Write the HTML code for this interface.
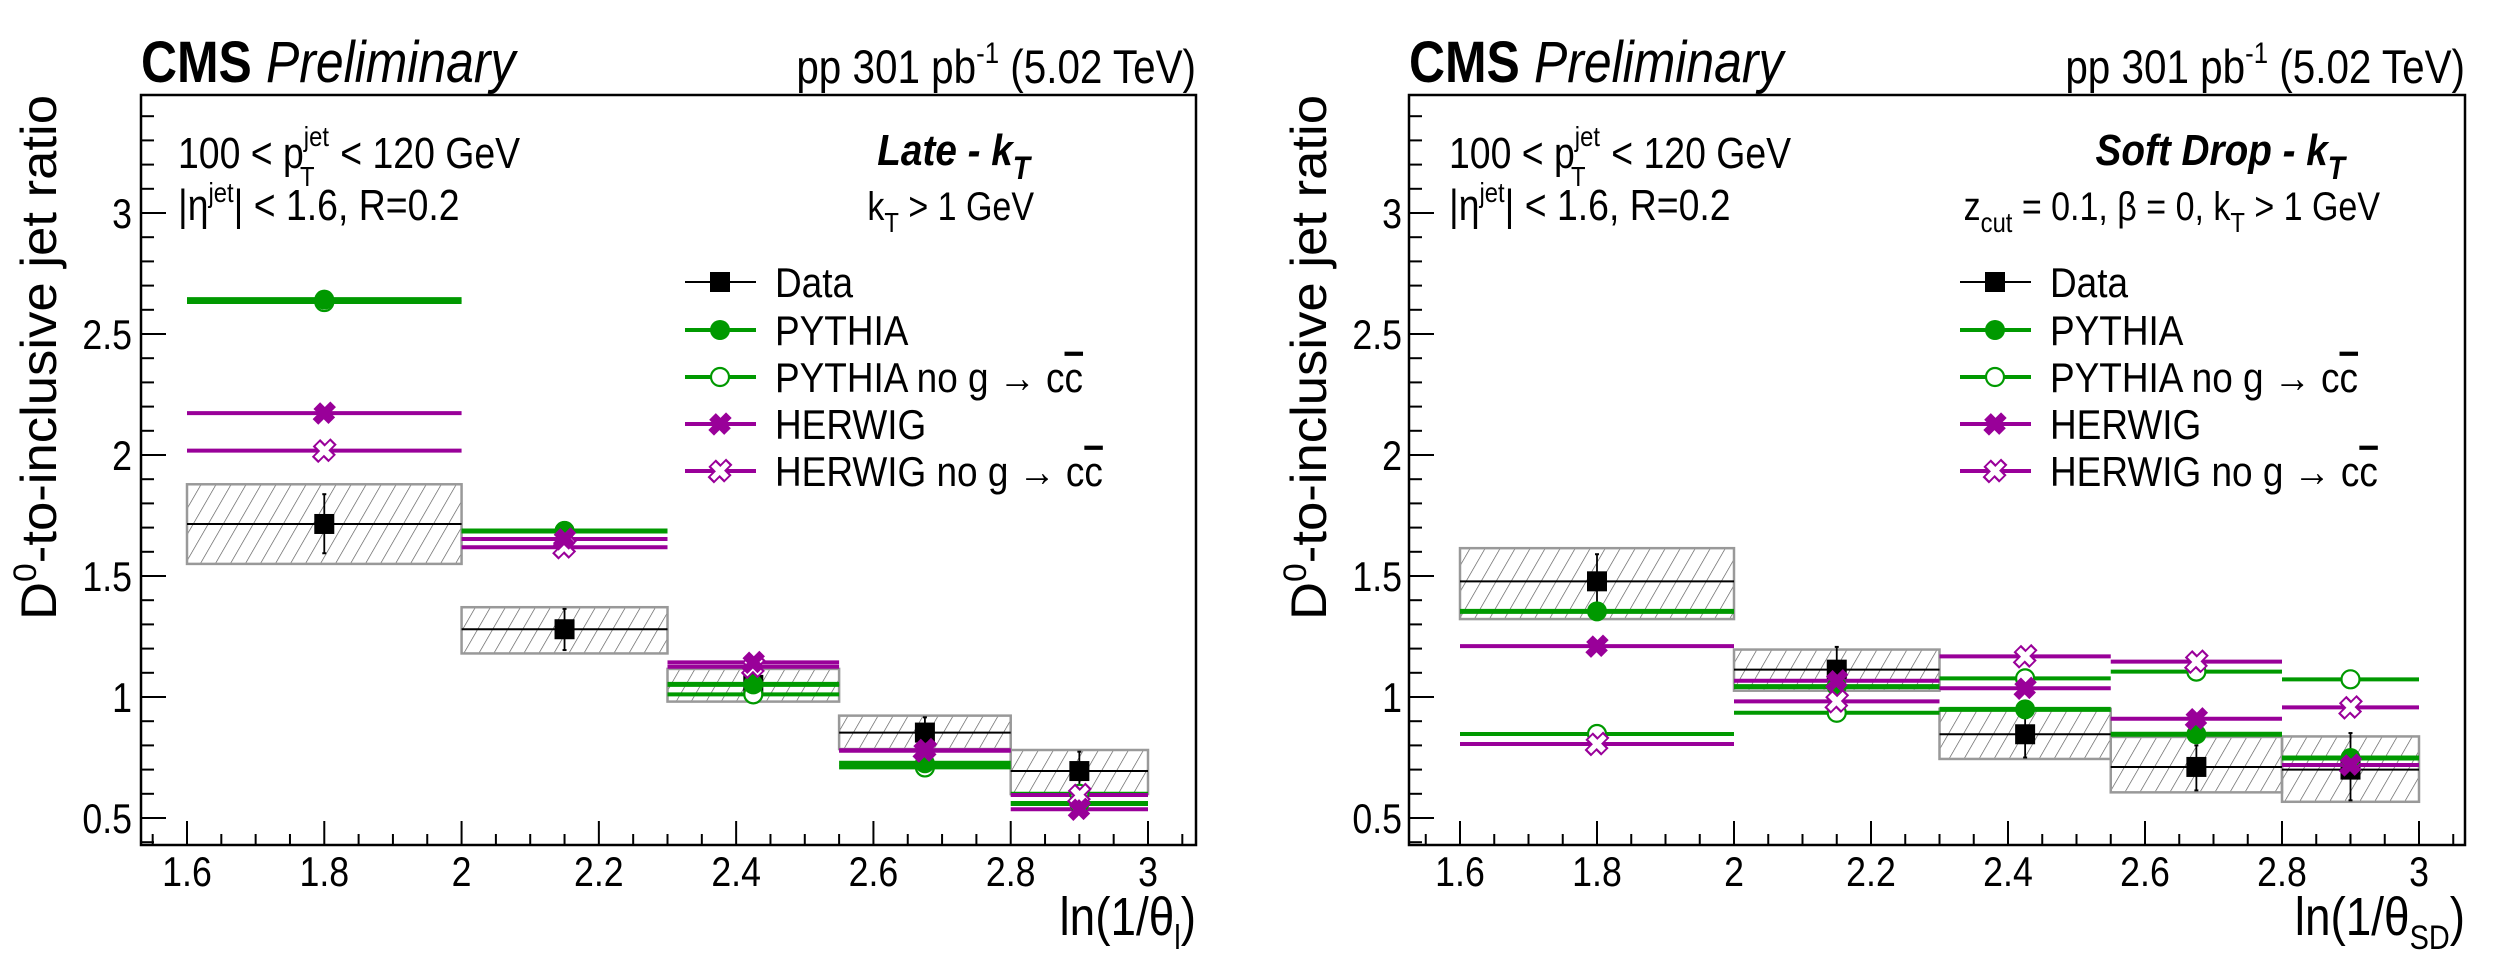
<!DOCTYPE html>
<html><head><meta charset="utf-8"><style>
html,body{margin:0;padding:0;background:#fff;}
svg{display:block;font-family:"Liberation Sans",sans-serif;}
</style></head><body>
<svg id="c" width="2496" height="958" viewBox="0 0 2496 958" xmlns="http://www.w3.org/2000/svg">
<defs>
<pattern id="hatch" patternUnits="userSpaceOnUse" width="13" height="13" patternTransform="rotate(30)">
<line x1="0" y1="0" x2="0" y2="13" stroke="#555" stroke-width="1.3"/>
</pattern>
</defs>
</svg>
<script>
// ---- data ----
const binEdges = [1.6, 2.0, 2.3, 2.55, 2.8, 3.0];
const binCenters = [1.8, 2.15, 2.425, 2.675, 2.9];
const xTicks = [1.6, 1.8, 2.0, 2.2, 2.4, 2.6, 2.8, 3.0];
const xTickLabels = ["1.6","1.8","2","2.2","2.4","2.6","2.8","3"];
const yTicks = [0.5, 1, 1.5, 2, 2.5, 3];
const yTickLabels = ["0.5","1","1.5","2","2.5","3"];

const lateData = [1.715, 1.28, 1.05, 0.853, 0.694];
const lateStatLo = [1.594, 1.194, 1.0, 0.79, 0.61];
const lateStatHi = [1.838, 1.364, 1.10, 0.916, 0.774];
const lateSysLo = [1.55, 1.18, 0.981, 0.785, 0.599];
const lateSysHi = [1.879, 1.371, 1.116, 0.923, 0.781];
const latePythia = [2.642, 1.686, 1.052, 0.726, 0.56];
const latePythiaNo = [2.632, 1.686, 1.011, 0.709, 0.60];
const lateHerwig = [2.173, 1.653, 1.143, 0.778, 0.536];
const lateHerwigNo = [2.018, 1.619, 1.125, 0.78, 0.595];

const sdData = [1.478, 1.113, 0.846, 0.711, 0.70];
const sdStatLo = [1.37, 1.02, 0.75, 0.614, 0.573];
const sdStatHi = [1.59, 1.207, 0.93, 0.80, 0.851];
const sdSysLo = [1.322, 1.026, 0.744, 0.606, 0.567];
const sdSysHi = [1.615, 1.196, 0.951, 0.835, 0.837];
const sdPythia = [1.354, 1.043, 0.949, 0.846, 0.748];
const sdPythiaNo = [0.847, 0.935, 1.077, 1.105, 1.073];
const sdHerwig = [1.21, 1.067, 1.036, 0.91, 0.719];
const sdHerwigNo = [0.806, 0.982, 1.168, 1.146, 0.957];

const NS = "http://www.w3.org/2000/svg";
const svg = document.getElementById("c");
const GREEN = "#009900", PURPLE = "#990099";

function el(tag, attrs, parent) {
  const e = document.createElementNS(NS, tag);
  for (const k in attrs) e.setAttribute(k, attrs[k]);
  (parent || svg).appendChild(e);
  return e;
}
function txt(parent, x, y, html, size, anchor, sx, weight, style) {
  const t = el("text", {transform: `translate(${x},${y}) scale(${sx},1)`, "font-size": size, "text-anchor": anchor || "start", fill: "#000"}, parent);
  if (weight) t.setAttribute("font-weight", weight);
  if (style) t.setAttribute("font-style", style);
  t.innerHTML = html;
  return t;
}
function marker(g, type, cx, cy, color) {
  let m;
  if (type === "square") {
    m = el("rect", {x: cx-10, y: cy-10, width: 20, height: 20, fill: "#000"}, g);
  } else if (type === "circle") {
    m = el("circle", {cx: cx, cy: cy, r: 10, fill: color}, g);
  } else if (type === "ocircle") {
    m = el("circle", {cx: cx, cy: cy, r: 9, fill: "#fff", stroke: color, "stroke-width": 2.2}, g);
  } else {
    const s = 12, t = 4.2;
    const pts = [[-t,-s],[t,-s],[t,-t],[s,-t],[s,t],[t,t],[t,s],[-t,s],[-t,t],[-s,t],[-s,-t],[-t,-t]].map(p => p.join(",")).join(" ");
    m = el("polygon", {points: pts, transform: `translate(${cx},${cy}) rotate(45) scale(0.85,1)`,
      fill: type === "cross" ? color : "#fff", stroke: color, "stroke-width": type === "cross" ? 1 : 2.2}, g);
  }
  return m;
}

function panel(cfg) {
  const g = el("g", {});
  
  
  const L = cfg.left, R = cfg.right, T = 95, B = 845;
  const x0 = cfg.x16, x1 = cfg.x30;
  const X = v => x0 + (v - 1.6) * (x1 - x0) / 1.4;
  const Y = v => 697 - (v - 1) * 242;

  const fr = el("rect", {x: L, y: T, width: R-L, height: B-T, fill: "none", stroke: "#000", "stroke-width": 2.5}, g);
  
  

  const yAxis = el("g", {}, g);
  
  
  for (let i = 4; i <= 34; i++) {
    const v = i / 10, yy = Y(v);
    if (yy < T || yy > B) continue;
    const major = i % 5 === 0;
    el("line", {x1: L, x2: L + (major ? 25 : 13), y1: yy, y2: yy, stroke: "#000", "stroke-width": 2}, yAxis);
  }
  yTicks.forEach((v, i) => {
    const t = txt(yAxis, cfg.ylab, Y(v) + 15, yTickLabels[i], 42, "end", 0.85);
    
    
  });
  const xAxis = el("g", {}, g);
  
  
  for (let i = 31; i <= 61; i++) {
    const v = i / 20, xx = X(v);
    if (xx < L || xx > R) continue;
    const major = i % 4 === 0;
    el("line", {x1: xx, x2: xx, y1: B, y2: B - (major ? 24 : 11), stroke: "#000", "stroke-width": 2}, xAxis);
  }
  xTicks.forEach((v, i) => {
    const t = txt(xAxis, X(v), 886, xTickLabels[i], 42, "middle", 0.85);
    
    
  });

  const dg = el("g", {}, g);
  
  
  cfg.data.forEach((v, i) => {
    const xa = X(binEdges[i]), xb = X(binEdges[i+1]);
    const box = el("rect", {x: xa, y: Y(cfg.sysHi[i]), width: xb - xa, height: Y(cfg.sysLo[i]) - Y(cfg.sysHi[i]),
      fill: "url(#hatch)", stroke: "#999", "stroke-width": 2.5}, dg);
    
    
  });
  cfg.data.forEach((v, i) => {
    const xa = X(binEdges[i]), xb = X(binEdges[i+1]), xc = X(binCenters[i]);
    el("line", {x1: xa, x2: xb, y1: Y(v), y2: Y(v), stroke: "#000", "stroke-width": 2}, dg);
    el("line", {x1: xc, x2: xc, y1: Y(cfg.statLo[i]), y2: Y(cfg.statHi[i]), stroke: "#000", "stroke-width": 1.8}, dg);
    el("line", {x1: xc-2, x2: xc+2, y1: Y(cfg.statLo[i]), y2: Y(cfg.statLo[i]), stroke: "#000", "stroke-width": 2}, dg);
    el("line", {x1: xc-2, x2: xc+2, y1: Y(cfg.statHi[i]), y2: Y(cfg.statHi[i]), stroke: "#000", "stroke-width": 2}, dg);
    const m = marker(dg, "square", xc, Y(v));
    
    
  });

  const models = [
    {vals: cfg.pythiaNo, color: GREEN, type: "ocircle", w: 4, name: "pythia-no-gcc-series"},
    {vals: cfg.pythia, color: GREEN, type: "circle", w: 5, name: "pythia-series"},
    {vals: cfg.herwigNo, color: PURPLE, type: "ocross", w: 4, name: "herwig-no-gcc-series"},
    {vals: cfg.herwig, color: PURPLE, type: "cross", w: 4, name: "herwig-series"},
  ];
  models.forEach(md => {
    const mg = el("g", {}, g);
    
    
    md.vals.forEach((v, i) => {
      el("line", {x1: X(binEdges[i]), x2: X(binEdges[i+1]), y1: Y(v), y2: Y(v), stroke: md.color, "stroke-width": md.w}, mg);
    });
  });
  models.forEach(md => {
    const mg = el("g", {}, g);
    
    
    md.vals.forEach((v, i) => {
      const m = marker(mg, md.type, X(binCenters[i]), Y(v), md.color);
      
      
    });
  });

  const lg = el("g", {}, g);
  
  
  const entries = [
    {label: "Data", color: "#000", type: "square", w: 2},
    {label: "PYTHIA", color: GREEN, type: "circle", w: 4},
    {label: "PYTHIA no g \u2192 c<tspan text-decoration=\"overline\">c</tspan>", color: GREEN, type: "ocircle", w: 4},
    {label: "HERWIG", color: PURPLE, type: "cross", w: 4},
    {label: "HERWIG no g \u2192 c<tspan text-decoration=\"overline\">c</tspan>", color: PURPLE, type: "ocross", w: 4},
  ];
  const rows = [282, 330, 377, 424, 471];
  entries.forEach((e, i) => {
    const eg = el("g", {}, lg);
    
    
    const yy = rows[i];
    el("line", {x1: cfg.legX - 35, x2: cfg.legX + 36, y1: yy, y2: yy, stroke: e.color, "stroke-width": e.w}, eg);
    marker(eg, e.type, cfg.legX, yy, e.color);
    txt(eg, cfg.legX + 55, yy + 15, e.label, 42, "start", 0.88);
  });

  const cms = txt(g, L, 82, "CMS", 58, "start", 0.86, "bold");
  
  
  const pre = txt(g, L + 125, 82, "Preliminary", 58, "start", 0.86, null, "italic");
  
  
  const lumi = txt(g, R, 83, 'pp 301 pb<tspan dy="-20" font-size="30">-1</tspan><tspan dy="20"> (5.02 TeV)</tspan>', 47, "end", 0.86);
  
  

  const a1 = txt(g, cfg.annX, 168, '100 &lt; p<tspan dy="-22" font-size="28">jet</tspan><tspan dx="-34" dy="40" font-size="28">T</tspan><tspan dy="-18" dx="18"> &lt; 120 GeV</tspan>', 44, "start", 0.85);
  
  
  const a2 = txt(g, cfg.annX, 220, '|\u03b7<tspan dy="-18" font-size="28">jet</tspan><tspan dy="18">| &lt; 1.6, R=0.2</tspan>', 44, "start", 0.85);
  
  
  const a3 = txt(g, cfg.titleX, 165, cfg.title + ' - k<tspan dy="14" font-size="32">T</tspan>', 44, "end", 0.88, "bold", "italic");
  
  
  const a4 = txt(g, cfg.cutX, 220, cfg.cut, 40, "end", 0.85);
  
  

  const yt = el("text", {transform: `translate(${cfg.ytX},95) rotate(-90)`, "font-size": 50, "text-anchor": "end", textLength: 525, lengthAdjust: "spacingAndGlyphs"}, g);
  yt.innerHTML = 'D<tspan dy="-20" font-size="32">0</tspan><tspan dy="20">-to-inclusive jet ratio</tspan>';
  
  
  const xt = txt(g, R, 935, cfg.xtitle, 54, "end", 0.85);
  
  
}

panel({name: "late-kt-panel", left: 141, right: 1196, x16: 187, x30: 1148, ylab: 132, legX: 720, annX: 178,
  title: "Late", titleX: 1030, cut: 'k<tspan dy="12" font-size="28">T</tspan><tspan dy="-12"> &gt; 1 GeV</tspan>', cutX: 1034, ytX: 56,
  xtitle: 'ln(1/\u03b8<tspan dy="14" font-size="34">l</tspan><tspan dy="-14">)</tspan>',
  data: lateData, statLo: lateStatLo, statHi: lateStatHi, sysLo: lateSysLo, sysHi: lateSysHi,
  pythia: latePythia, pythiaNo: latePythiaNo, herwig: lateHerwig, herwigNo: lateHerwigNo});
panel({name: "soft-drop-kt-panel", left: 1409, right: 2465, x16: 1460, x30: 2419, ylab: 1402, legX: 1995, annX: 1449,
  title: "Soft Drop", titleX: 2345,
  cut: 'z<tspan dy="12" font-size="28">cut</tspan><tspan dy="-12"> = 0.1, \u03b2 = 0, k</tspan><tspan dy="12" font-size="28">T</tspan><tspan dy="-12"> &gt; 1 GeV</tspan>', cutX: 2380, ytX: 1326,
  xtitle: 'ln(1/\u03b8<tspan dy="14" font-size="34">SD</tspan><tspan dy="-14">)</tspan>',
  data: sdData, statLo: sdStatLo, statHi: sdStatHi, sysLo: sdSysLo, sysHi: sdSysHi,
  pythia: sdPythia, pythiaNo: sdPythiaNo, herwig: sdHerwig, herwigNo: sdHerwigNo});
</script>
</body></html>
